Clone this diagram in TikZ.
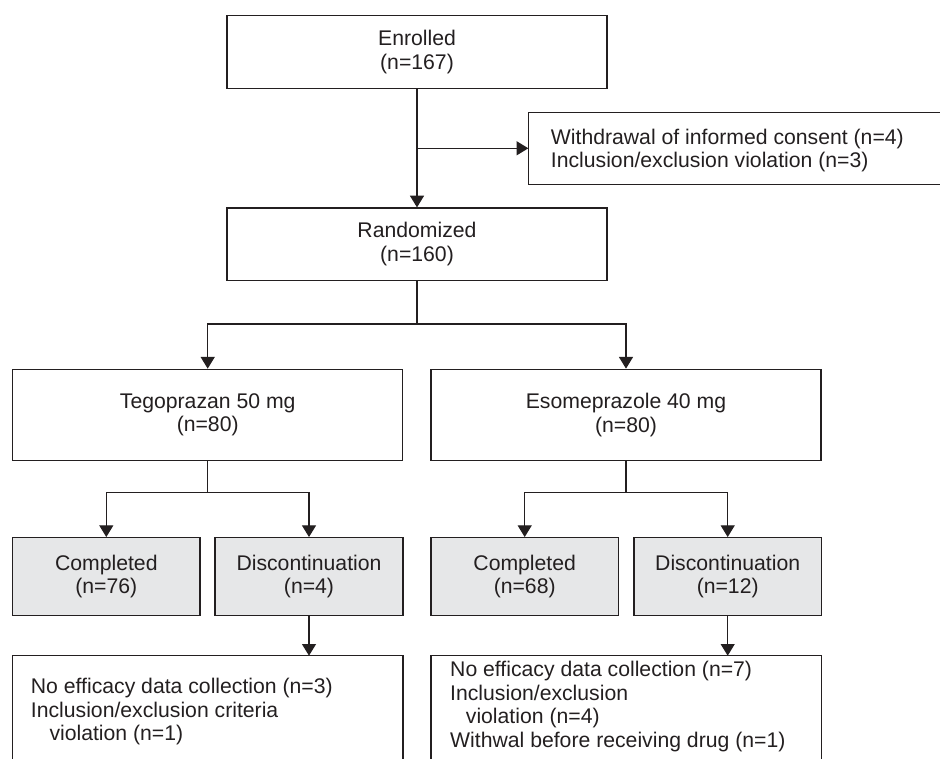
\documentclass[tikz,border=0pt]{standalone}
\usepackage{fontspec}
\setmainfont{Liberation Sans}
\usetikzlibrary{arrows.meta}
\definecolor{ink}{HTML}{231F20}
\definecolor{boxgray}{HTML}{E6E7E8}
\begin{document}
\begin{tikzpicture}[x=1pt,y=-1pt,
  every node/.style={font=\fontsize{21.2}{23.5}\selectfont, text=ink, inner sep=0pt},
  box/.style={draw=ink, line width=1.3pt, fill=white, align=center},
  grey/.style={box, fill=boxgray},
  txt/.style={align=left, anchor=north west},
  ln/.style={draw=ink, line width=1.2pt},
  arr/.style={ln, -{Triangle[length=11.7pt,width=14pt]}}]
\useasboundingbox (0,0) rectangle (940,759);

% main boxes
\node[box, minimum width=380pt, minimum height=73pt] (enr) at (417,52.2) {Enrolled\\(n=167)};
\node[box, minimum width=380pt, minimum height=72.3pt] (rnd) at (417,244.2) {Randomized\\(n=160)};
\node[box, minimum width=390pt, minimum height=91.4pt] (teg) at (207.7,415) {Tegoprazan 50 mg\\(n=80)};
\node[box, minimum width=390pt, minimum height=91.4pt] (eso) at (626,415) {Esomeprazole 40 mg\\(n=80)};
\node[grey, minimum width=187.3pt, minimum height=78pt] (tc) at (106.3,576.7) {Completed\\(n=76)};
\node[grey, minimum width=188pt, minimum height=78pt] (td) at (309,576.7) {Discontinuation\\(n=4)};
\node[grey, minimum width=187.3pt, minimum height=78pt] (ec) at (524.7,576.7) {Completed\\(n=68)};
\node[grey, minimum width=187.3pt, minimum height=78pt] (ed) at (727.7,576.7) {Discontinuation\\(n=12)};

% exclusion box (cut off at the right edge)
\draw[draw=ink, line width=1.3pt] (940,112.3) -- (528.3,112.3) -- (528.3,184.3) -- (940,184.3);
\node[txt] (exc) at (550.7,128.8) {Withdrawal of informed consent (n=4)\\Inclusion/exclusion violation (n=3)};
\coordinate (excl) at (528.3,148.3);
\coordinate (brk) at (417,148.3);

% bottom boxes (cut off at the bottom edge)
\draw[draw=ink, line width=1.3pt] (12.7,759) -- (12.7,655.7) -- (403,655.7) -- (403,759);
\draw[draw=ink, line width=1.3pt] (431,759) -- (431,655.7) -- (821.3,655.7) -- (821.3,759);
\node[txt] (tbt) at (30.7,678) {No efficacy data collection (n=3)\\Inclusion/exclusion criteria\\\hspace*{18.6pt}violation (n=1)};
\node[txt] (ebt) at (450,661) {No efficacy data collection (n=7)\\Inclusion/exclusion\\\hspace*{15.7pt}violation (n=4)\\Withwal before receiving drug (n=1)};
\coordinate (tbtop) at (309,655.7);
\coordinate (ebtop) at (727.7,655.7);

% split points
\coordinate (s1) at (417,324);
\coordinate (s2) at (207.7,492.3);
\coordinate (s3) at (626,492.3);

% connectors
\draw[arr] (enr.south) -- (rnd.north);
\draw[arr] (brk) -- (excl);
\draw[ln] (rnd.south) -- (s1);
\draw[arr] (s1) -| (teg.north);
\draw[arr] (s1) -| (eso.north);
\draw[ln] (teg.south) -- (s2);
\draw[arr] (s2) -| (tc.north);
\draw[arr] (s2) -| (td.north);
\draw[ln] (eso.south) -- (s3);
\draw[arr] (s3) -| (ec.north);
\draw[arr] (s3) -| (ed.north);
\draw[arr] (td.south) -- (tbtop);
\draw[arr] (ed.south) -- (ebtop);
\end{tikzpicture}
\end{document}
